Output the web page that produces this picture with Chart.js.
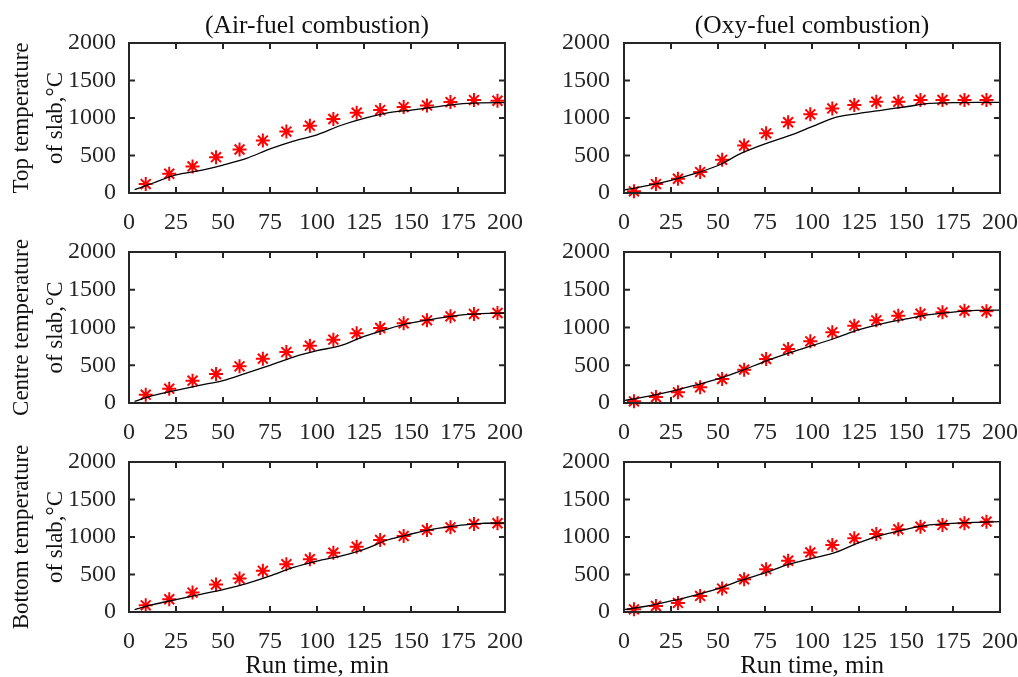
<!DOCTYPE html>
<html>
<head>
<meta charset="utf-8">
<script src="https://cdn.jsdelivr.net/npm/chart.js@4"></script>
<style>
  html, body { margin: 0; padding: 0; background: #fff; width: 1018px; height: 677px; overflow: hidden; position: relative; }
  canvas { position: absolute; }
</style>
</head>
<body>
<canvas id="c1" width="540" height="240" style="left:0;top:0"></canvas>
<canvas id="c2" width="518" height="240" style="left:500px;top:0"></canvas>
<canvas id="c3" width="540" height="250" style="left:0;top:200px"></canvas>
<canvas id="c4" width="518" height="250" style="left:500px;top:200px"></canvas>
<canvas id="c5" width="540" height="270" style="left:0;top:420px"></canvas>
<canvas id="c6" width="518" height="270" style="left:500px;top:420px"></canvas>
<script>
// measured run times (min)
var airStarX = [8.9, 21.4, 33.8, 46.3, 58.8, 71.2, 83.7, 96.2, 108.7, 121.1, 133.6, 146.1, 158.5, 171.0, 183.5, 196.0];
var oxyStarX = [5.3, 17.0, 28.7, 40.5, 52.2, 63.9, 75.6, 87.3, 99.1, 110.8, 122.5, 134.2, 145.9, 157.7, 169.4, 181.1, 192.8];
// simulated run times (min)
var airLineX = [3, 12.5, 25, 37.5, 50, 62.5, 75, 87.5, 100, 112.5, 125, 137.5, 150, 162.5, 175, 187.5, 200];
var oxyLineX = [0, 12.5, 25, 37.5, 50, 62.5, 75, 87.5, 100, 112.5, 125, 137.5, 150, 162.5, 175, 187.5, 200];

// measured temperatures (red stars)
var topAirMeas = [119, 257, 354, 478, 580, 699, 819, 898, 987, 1071, 1106, 1146, 1168, 1212, 1239, 1230];
var topOxyMeas = [22, 119, 190, 279, 442, 633, 796, 943, 1049, 1128, 1173, 1217, 1217, 1240, 1240, 1240, 1240];
var centreAirMeas = [110, 190, 296, 384, 486, 587, 675, 759, 839, 923, 993, 1055, 1095, 1148, 1179, 1192];
var centreOxyMeas = [22, 79, 141, 208, 318, 442, 583, 715, 817, 936, 1024, 1095, 1157, 1183, 1201, 1222, 1215];
var bottomAirMeas = [89, 170, 259, 366, 446, 549, 638, 705, 790, 870, 960, 1013, 1094, 1129, 1174, 1183];
var bottomOxyMeas = [36, 80, 121, 214, 312, 437, 571, 683, 795, 893, 982, 1040, 1103, 1138, 1161, 1183, 1205];

// simulated temperatures (black line)
var topAirSim = [44, 130, 241, 297, 373, 462, 588, 693, 775, 900, 995, 1068, 1106, 1145, 1186, 1202, 1205];
var topOxySim = [40, 97, 168, 257, 367, 531, 655, 761, 885, 1009, 1062, 1106, 1150, 1195, 1204, 1208, 1208];
var centreAirSim = [22, 97, 168, 234, 296, 397, 499, 609, 693, 759, 883, 980, 1060, 1113, 1161, 1183, 1192];
var centreOxySim = [31, 88, 155, 234, 318, 428, 552, 662, 759, 861, 971, 1051, 1113, 1170, 1205, 1227, 1231];
var bottomAirSim = [31, 98, 165, 232, 299, 379, 482, 594, 679, 746, 835, 960, 1040, 1107, 1152, 1183, 1187];
var bottomOxySim = [31, 80, 147, 223, 312, 424, 522, 634, 714, 795, 924, 1027, 1103, 1161, 1183, 1196, 1205];

var xTicks = [0, 25, 50, 75, 100, 125, 150, 175, 200];
var yTicks = [0, 500, 1000, 1500, 2000];

var FONT = 'Liberation Serif';
var AXIS = '#262626';

function pts(xs, ys) {
    return xs.map(function(x, i) { return {x: x, y: ys[i]}; });
}

// MATLAB style box with ticks pointing inwards
var boxPlugin = {
    id: 'box',
    afterDatasetsDraw: function(chart) {
        var ctx = chart.ctx, a = chart.chartArea;
        var xs = chart.scales.x, ys = chart.scales.y;
        var len = 6;
        ctx.save();
        ctx.strokeStyle = AXIS;
        ctx.lineWidth = 2;
        ctx.strokeRect(a.left, a.top, a.right - a.left, a.bottom - a.top);
        ctx.beginPath();
        xTicks.forEach(function(v) {
            var px = xs.getPixelForValue(v);
            ctx.moveTo(px, a.bottom); ctx.lineTo(px, a.bottom - len);
            ctx.moveTo(px, a.top); ctx.lineTo(px, a.top + len);
        });
        yTicks.forEach(function(v) {
            var py = ys.getPixelForValue(v);
            ctx.moveTo(a.left, py); ctx.lineTo(a.left + len, py);
            ctx.moveTo(a.right, py); ctx.lineTo(a.right - len, py);
        });
        ctx.stroke();
        ctx.restore();
    }
};

function panel(id, p) {
    var yTitle = p.yTitle ? {
        display: true,
        text: p.yTitle,
        color: '#111',
        font: {family: FONT, size: 23, lineHeight: 1.52},
        padding: {top: 4, bottom: 0}
    } : {display: false};
    var xTitle = p.xTitle ? {
        display: true,
        text: p.xTitle,
        color: '#111',
        font: {family: FONT, size: 25},
        padding: {top: 0, bottom: 9}
    } : {display: false};

    return new Chart(document.getElementById(id), {
        type: 'scatter',
        data: {
            datasets: [{
                label: 'Simulated',
                data: pts(p.lineX, p.sim),
                showLine: true,
                borderColor: '#000',
                borderWidth: 1.3,
                pointRadius: 0,
                cubicInterpolationMode: 'monotone'
            }, {
                label: 'Measured',
                data: pts(p.starX, p.meas),
                showLine: false,
                pointStyle: 'star',
                pointRadius: 7,
                borderColor: '#ff0000',
                backgroundColor: '#ff0000',
                pointBorderWidth: 2,
                clip: false
            }]
        },
        options: {
            responsive: false,
            animation: false,
            devicePixelRatio: 1,
            layout: {padding: {left: 0, top: p.padTop, right: p.padRight, bottom: 0}},
            plugins: {
                legend: {display: false},
                tooltip: {enabled: false},
                title: p.title ? {
                    display: true,
                    text: p.title,
                    fullSize: false,
                    color: '#111',
                    font: {family: FONT, size: 25.5, weight: 'normal'},
                    padding: {top: 11, bottom: 1.4}
                } : {display: false}
            },
            scales: {
                x: {
                    type: 'linear',
                    min: 0, max: 200,
                    grid: {display: false},
                    border: {display: false},
                    afterBuildTicks: function(s) { s.ticks = xTicks.map(function(v) { return {value: v}; }); },
                    ticks: {
                        autoSkip: false, maxRotation: 0, padding: 7,
                        color: AXIS, font: {family: FONT, size: 24},
                        callback: function(v) { return String(v); }
                    },
                    title: xTitle,
                    afterFit: function(s) {
                        s.height = p.xHeight;
                        s.paddingLeft = 0; s.paddingRight = 0;
                    }
                },
                y: {
                    type: 'linear',
                    min: 0, max: 2000,
                    grid: {display: false},
                    border: {display: false},
                    afterBuildTicks: function(s) { s.ticks = yTicks.map(function(v) { return {value: v}; }); },
                    ticks: {
                        padding: p.yPad,
                        color: AXIS, font: {family: FONT, size: 24},
                        callback: function(v) { return String(v); }
                    },
                    title: yTitle,
                    afterFit: function(s) {
                        s.width = p.yWidth;
                        s.paddingTop = 0; s.paddingBottom = 0;
                    }
                }
            }
        },
        plugins: [boxPlugin]
    });
}

// left column: plot 129..505, right column: plot 624..1000
panel('c1', {title: '(Air-fuel combustion)', yTitle: ['Top temperature', 'of slab,\u00B0C'],
    starX: airStarX, meas: topAirMeas, lineX: airLineX, sim: topAirSim,
    padTop: 0, padRight: 35, yWidth: 129, yPad: 5, xHeight: 47});
panel('c2', {title: '(Oxy-fuel combustion)',
    starX: oxyStarX, meas: topOxyMeas, lineX: oxyLineX, sim: topOxySim,
    padTop: 0, padRight: 18, yWidth: 124, yPad: 6, xHeight: 47});
panel('c3', {yTitle: ['Centre temperature', 'of slab,\u00B0C'],
    starX: airStarX, meas: centreAirMeas, lineX: airLineX, sim: centreAirSim,
    padTop: 52, padRight: 35, yWidth: 129, yPad: 5, xHeight: 47});
panel('c4', {
    starX: oxyStarX, meas: centreOxyMeas, lineX: oxyLineX, sim: centreOxySim,
    padTop: 52, padRight: 18, yWidth: 124, yPad: 6, xHeight: 47});
panel('c5', {yTitle: ['Bottom temperature', 'of slab,\u00B0C'], xTitle: 'Run time, min',
    starX: airStarX, meas: bottomAirMeas, lineX: airLineX, sim: bottomAirSim,
    padTop: 42, padRight: 35, yWidth: 129, yPad: 5, xHeight: 78});
panel('c6', {xTitle: 'Run time, min',
    starX: oxyStarX, meas: bottomOxyMeas, lineX: oxyLineX, sim: bottomOxySim,
    padTop: 42, padRight: 18, yWidth: 124, yPad: 6, xHeight: 78});
</script>
</body>
</html>
